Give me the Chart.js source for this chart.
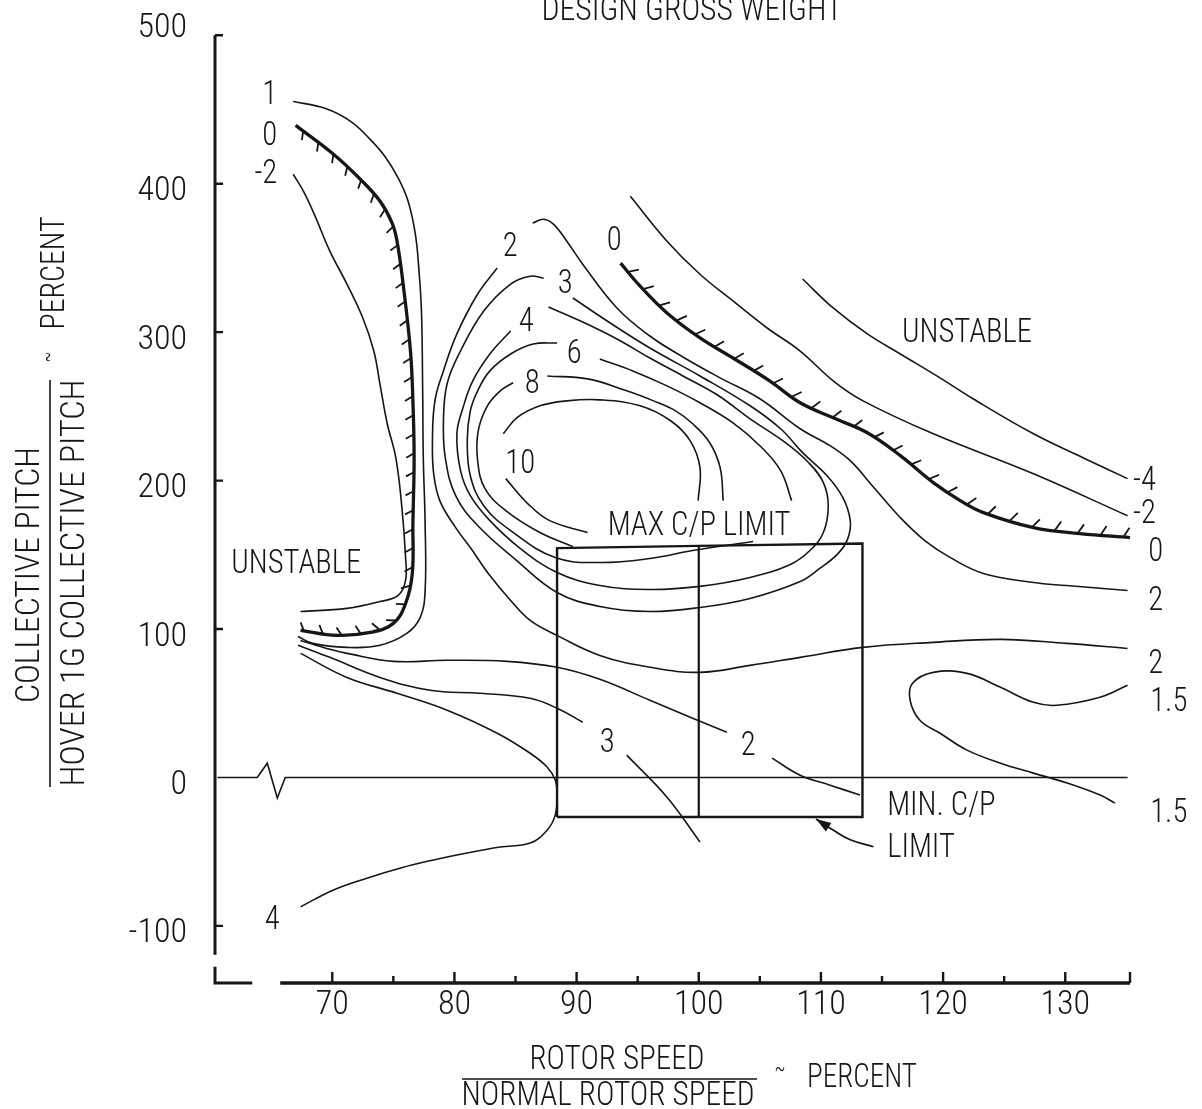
<!DOCTYPE html>
<html>
<head>
<meta charset="utf-8">
<title>Collective pitch vs rotor speed</title>
<script src="https://cdn.jsdelivr.net/npm/chart.js@4.4.1/dist/chart.umd.min.js"></script>
<style>
  html, body { margin: 0; padding: 0; background: #fff; }
  canvas { display: block; }
</style>
</head>
<body>
<canvas id="chart" width="1202" height="1109"></canvas>
<script>
// axes: rotor speed / normal rotor speed (%) and collective pitch / hover 1G collective pitch (%)
const X_MIN = 60.4, X_MAX = 135.3;
const Y_MIN = -138.5, Y_MAX = 500;
const xTicks = [70, 80, 90, 100, 110, 120, 130];
const xMinorTicks = [75, 85, 95, 105, 115, 125];
const yTicks = [500, 400, 300, 200, 100, 0, -100];

// contour lines
const one_x = [66.8, 69.4, 71.5, 73.1, 74.3, 75.4, 76.2, 76.8, 77.1, 77.3, 77.4, 77.45, 77.6, 77.6, 77.2, 76.1, 73.9, 71.2, 68.4, 67.2];
const one_y = [455.4, 450.8, 442.0, 429.9, 418.5, 403.7, 388.3, 366.0, 341.1, 314.2, 260.5, 215.4, 171.0, 125.9, 107.8, 97.0, 89.0, 87.6, 90.3, 95.0];

const zeroL_x = [67.0, 70.1, 72.3, 73.9, 74.9, 75.3, 75.8, 76.4, 76.6, 76.7, 76.6, 76.55, 76.0, 75.0, 73.1, 70.4, 67.4];
const zeroL_y = [439.3, 419.9, 403.0, 388.3, 373.5, 361.3, 332.4, 287.3, 253.7, 215.4, 171.0, 137.4, 117.2, 103.8, 97.7, 95.7, 99.1];

const minus2L_x = [66.8, 67.7, 68.6, 69.8, 71.2, 72.5, 73.4, 73.9, 74.5, 75.2, 75.7, 76.0, 76.0, 75.4, 73.9, 71.2, 67.4];
const minus2L_y = [406.4, 394.0, 378.0, 354.6, 332.4, 309.5, 287.3, 265.2, 238.3, 215.4, 181.8, 148.1, 132.7, 122.6, 118.5, 113.9, 111.8];

const two_x = [83.5, 81.9, 80.2, 79.1, 78.4, 78.2, 78.3, 78.8, 80.1, 81.3, 82.9, 84.6, 86.2, 88.4, 91.9, 96.0, 100.1, 104.2, 108.3, 113.45, 119.2, 124.7, 130.1, 135.1];
const two_y = [343.2, 325.7, 298.8, 273.9, 253.7, 226.8, 204.6, 186.5, 168.3, 154.9, 136.0, 119.2, 105.8, 95.7, 82.2, 74.2, 70.8, 75.5, 80.9, 87.6, 91.0, 93.0, 90.3, 86.9];
const twoR_x = [86.4, 87.3, 88.1, 89.2, 90.5, 93.3, 96.0, 98.7, 101.75, 105.0, 108.3, 110.75, 112.4, 114.4, 116.5, 118.5, 120.6, 123.3, 127.4, 130.1, 135.1];
const twoR_y = [373.5, 376.1, 372.8, 361.3, 345.8, 316.3, 297.4, 283.3, 269.2, 255.1, 234.9, 223.5, 213.4, 194.6, 175.0, 159.6, 148.1, 137.4, 131.3, 129.3, 125.9];

const three_x = [87.3, 86.2, 84.6, 82.4, 80.5, 79.4, 79.1, 79.25, 80.1, 81.9, 85.1, 88.4, 91.9, 96.0, 100.1, 104.2, 108.3, 109.9, 111.4, 112.2, 112.4, 111.8, 110.5, 108.5, 106.7, 104.2, 100.1, 96.0, 92.5, 89.7];
const three_y = [336.3, 337.7, 332.4, 314.2, 287.3, 265.2, 240.3, 215.4, 189.8, 169.7, 146.1, 124.6, 115.2, 111.8, 114.5, 120.6, 132.0, 140.8, 150.8, 160.9, 173.0, 188.5, 203.3, 218.8, 234.9, 250.4, 270.5, 289.3, 307.5, 323.0];

const four_x = [84.6, 82.9, 81.5, 80.7, 80.2, 80.5, 81.3, 82.9, 85.4, 88.4, 91.9, 96.0, 100.1, 104.2, 107.5, 109.1, 110.2, 110.6, 110.2, 109.0, 107.1, 104.2, 101.5, 98.7, 96.0, 93.3, 90.5, 87.7];
const four_y = [300.8, 285.3, 267.2, 249.0, 231.5, 206.7, 189.8, 173.0, 154.2, 138.1, 129.3, 126.6, 128.7, 134.7, 143.5, 152.9, 165.0, 183.1, 198.6, 212.0, 225.5, 241.6, 257.8, 270.5, 282.6, 295.4, 306.8, 316.9];

const sixL_x = [88.4, 86.45, 84.6, 82.9, 81.9, 81.3, 81.05, 81.3, 82.4, 84.6, 88.25, 91.9, 96.0, 99.5, 104.45];
const sixL_y = [292.7, 292.0, 285.3, 273.9, 260.5, 247.0, 226.8, 203.3, 183.1, 166.3, 148.1, 144.8, 147.5, 152.9, 158.9];
const sixR_x = [91.9, 94.6, 97.4, 100.1, 102.8, 105.0, 106.7, 107.6];
const sixR_y = [281.9, 273.9, 263.8, 252.4, 238.9, 223.5, 206.7, 186.5];

const eightL_x = [84.8, 83.75, 82.7, 81.95, 81.9, 82.5, 84.2, 87.0, 89.7];
const eightL_y = [265.9, 260.5, 250.4, 233.6, 213.4, 194.6, 179.8, 165.0, 155.5];
const eightR_x = [87.6, 90.9, 94.1, 96.3, 98.1, 99.5, 100.9, 101.75, 102.0];
const eightR_y = [270.5, 268.5, 260.5, 253.7, 247.0, 238.3, 225.5, 208.7, 186.5];

const tenU_x = [84.0, 85.1, 87.0, 89.2, 91.9, 95.2, 97.7, 99.3, 100.1, 99.95];
const tenU_y = [231.5, 242.3, 250.4, 253.7, 254.4, 250.4, 240.3, 226.8, 208.7, 186.5];
const tenL_x = [84.2, 86.0, 87.8, 90.9];
const tenL_y = [201.3, 184.5, 173.0, 165.0];

const zeroR_x = [93.6, 95.2, 97.4, 100.1, 102.8, 105.8, 108.3, 111.2, 113.8, 116.5, 119.2, 121.4, 123.3, 127.4, 131.2, 135.3];
const zeroR_y = [346.5, 331.0, 312.9, 296.1, 282.6, 267.2, 252.4, 241.6, 232.2, 216.8, 198.6, 186.5, 178.4, 168.3, 164.3, 161.6];

const minus2R_x = [94.4, 97.4, 100.1, 102.8, 105.6, 108.3, 111.0, 113.45, 119.2, 127.4, 135.1];
const minus2R_y = [391.6, 361.3, 339.0, 321.0, 302.8, 287.3, 267.2, 253.7, 231.5, 204.6, 176.3];

const minus4_x = [108.5, 111.0, 113.8, 116.5, 119.75, 122.45, 127.4, 131.45, 135.1];
const minus4_y = [335.8, 316.3, 298.8, 285.3, 269.2, 255.1, 231.5, 215.4, 201.3];

const onefive_x = [135.1, 132.85, 129.3, 127.4, 124.7, 121.96, 119.2, 117.5, 117.3, 118.1, 119.75, 121.96, 124.7, 127.4, 130.15, 132.85, 134.07];
const onefive_y = [62.1, 54.0, 48.6, 50.6, 60.7, 70.1, 70.8, 63.4, 52.0, 38.5, 29.8, 18.4, 9.6, 2.9, -3.8, -11.9, -17.3];

const twoLow_x = [67.4, 69.8, 71.2, 75.0, 79.4, 84.3, 88.4, 91.9, 96.0, 99.5, 102.3];
const twoLow_y = [92.3, 86.3, 83.6, 78.2, 78.9, 78.2, 74.2, 66.1, 52.0, 39.9, 30.5];
const twoLowTail_x = [106.0, 108.3, 110.75, 113.2];
const twoLowTail_y = [13.0, 1.5, -5.2, -11.9];

const threeLow_x = [67.2, 69.8, 73.9, 78.0, 82.1, 86.2, 88.4, 90.5];
const threeLow_y = [89.0, 80.9, 67.4, 58.7, 56.7, 53.3, 46.6, 37.2];
const threeLowTail_x = [94.1, 97.4, 100.1];
const threeLowTail_y = [15.0, -13.3, -43.5];

const fourLow_x = [67.4, 71.2, 75.3, 79.4, 83.5, 86.2, 87.6, 88.25, 88.4, 88.25, 87.6, 86.2, 83.75, 81.05, 78.3, 75.6, 72.9, 70.1, 67.4];
const fourLow_y = [83.6, 67.4, 56.7, 45.3, 29.8, 16.3, 6.9, -1.8, -11.9, -25.4, -35.4, -44.2, -46.9, -50.9, -55.6, -61.0, -67.7, -75.8, -87.2];

// zero line with the axis-break zigzag
const zeroLine_x = [60.6, 63.86, 64.68, 65.5, 66.15, 135.1];
const zeroLine_y = [0, 0, 9.6, -13.9, 0, 0];

// collective pitch limits box
const cpLimitX = [88.4, 100.0, 113.4];      // left, split, right
const cpMaxY = [154.5, 156.0, 157.6];       // MAX C/P LIMIT at those x
const cpMinY = -26.7;                       // MIN C/P LIMIT

const arrow_x = [114.3, 112.4, 111.0, 110.1, 109.6];
const arrow_y = [-46.7, -42.0, -35.4, -30.7, -28.0];

// text on the plot (data coordinates)
const curveLabels = [
  ['1', 65.5, 462.2, 'right'], ['0', 65.5, 434.6, 'right'], ['-2', 65.5, 408.4, 'right'],
  ['2', 84.57, 359.3], ['0', 93.08, 363.4], ['3', 89.07, 334.5], ['4', 85.88, 308.9],
  ['6', 89.80, 287.3], ['8', 86.37, 267.2], ['10', 85.38, 213.4],
  ['-4', 135.55, 202.0, 'left'], ['-2', 135.55, 179.8, 'left'], ['0', 136.8, 154.2, 'left'],
  ['2', 136.8, 121.3, 'left'], ['2', 136.8, 78.9, 'left'], ['1.5', 136.95, 53.3, 'left'], ['1.5', 136.95, -21.9, 'left'],
  ['3', 92.50, 25.1], ['2', 104.04, 23.1], ['4', 65.09, -93.9]
];
const noteLabels = [
  ['MAX C/P LIMIT', 100.03, 171.7], ['UNSTABLE', 121.96, 301.5], ['UNSTABLE', 67.05, 146.1],
  ['MIN. C/P', 115.42, -17.3, 'left'], ['LIMIT', 115.42, -45.5, 'left']
];

const INK = '#161616';
const FONT = "'Roboto Condensed', 'DejaVu Sans Condensed', 'Liberation Sans', sans-serif";
const WEIGHT = 300;
const SIZE = 34;

function pts(xs, ys) { return xs.map((v, i) => ({ x: v, y: ys[i] })); }
function curve(xs, ys, extra) {
  return Object.assign({
    data: pts(xs, ys), showLine: true, borderColor: INK, borderWidth: 1.6,
    pointRadius: 0, tension: 0.4, fill: false, clip: false
  }, extra || {});
}

const boxX = [cpLimitX[0], cpLimitX[0], cpLimitX[1], cpLimitX[2], cpLimitX[2], cpLimitX[0]];
const boxY = [cpMinY, cpMaxY[0], cpMaxY[1], cpMaxY[2], cpMinY, cpMinY];

const datasets = [
  curve(one_x, one_y),
  curve(zeroL_x, zeroL_y, { borderWidth: 3.3, hatch: { side: -1, step: 19, len: 9 } }),
  curve(minus2L_x, minus2L_y),
  curve(two_x, two_y),
  curve(twoR_x, twoR_y),
  curve(three_x, three_y),
  curve(four_x, four_y),
  curve(sixL_x, sixL_y), curve(sixR_x, sixR_y),
  curve(eightL_x, eightL_y), curve(eightR_x, eightR_y),
  curve(tenU_x, tenU_y), curve(tenL_x, tenL_y),
  curve(zeroR_x, zeroR_y, { borderWidth: 3.3, hatch: { side: 1, step: 23, len: 11 } }),
  curve(minus2R_x, minus2R_y),
  curve(minus4_x, minus4_y),
  curve(onefive_x, onefive_y),
  curve(twoLow_x, twoLow_y), curve(twoLowTail_x, twoLowTail_y),
  curve(threeLow_x, threeLow_y), curve(threeLowTail_x, threeLowTail_y),
  curve(fourLow_x, fourLow_y),
  curve(zeroLine_x, zeroLine_y, { tension: 0, borderWidth: 1.6 }),
  curve(boxX, boxY, { tension: 0, borderWidth: 2.4 }),
  curve([cpLimitX[1], cpLimitX[1]], [cpMinY, cpMaxY[1]], { tension: 0, borderWidth: 2.2 }),
  curve(arrow_x, arrow_y, { borderWidth: 1.8, arrow: true })
];

let K = 0.8;
function text(ctx, s, px, py, o) {
  o = o || {};
  const size = o.size || SIZE;
  ctx.save();
  ctx.font = WEIGHT + ' ' + size + 'px ' + FONT;
  const w = ctx.measureText(s).width;
  const k = o.w ? o.w / w : K;
  ctx.translate(px, py);
  if (o.rot) ctx.rotate(o.rot);
  ctx.scale(k, 1);
  ctx.fillStyle = INK;
  ctx.textAlign = o.align || 'center';
  ctx.textBaseline = 'alphabetic';
  ctx.fillText(s, 0, o.baseline ? 0 : size * 0.36);
  ctx.restore();
}

function hatchLine(ctx, p, side, step, len) {
  const lean = 0.5;
  let acc = step / 2;
  for (let i = 1; i < p.length; i++) {
    const ax = p[i - 1].x, ay = p[i - 1].y, bx = p[i].x, by = p[i].y;
    const seg = Math.hypot(bx - ax, by - ay);
    if (!seg) continue;
    const tx = (bx - ax) / seg, ty = (by - ay) / seg;
    const nx = side * ty, ny = -side * tx;
    const dx = nx * Math.cos(lean) + tx * Math.sin(lean);
    const dy = ny * Math.cos(lean) + ty * Math.sin(lean);
    let d = acc;
    while (d < seg) {
      const qx = ax + tx * d, qy = ay + ty * d;
      ctx.moveTo(qx, qy);
      ctx.lineTo(qx + dx * len, qy + dy * len);
      d += step;
    }
    acc = d - seg;
  }
}

const sketch = {
  id: 'sketch',
  afterDatasetsDraw(chart) {
    const ctx = chart.ctx;
    ctx.save();
    ctx.strokeStyle = INK;
    ctx.fillStyle = INK;
    chart.data.datasets.forEach((ds, i) => {
      const p = chart.getDatasetMeta(i).data.map(e => ({ x: e.x, y: e.y }));
      if (ds.hatch) {
        ctx.beginPath();
        ctx.lineWidth = 1.8;
        hatchLine(ctx, p, ds.hatch.side, ds.hatch.step, ds.hatch.len);
        ctx.stroke();
      }
      if (ds.arrow) {
        const t = p[p.length - 1], b = p[p.length - 2];
        const L = Math.hypot(t.x - b.x, t.y - b.y);
        const ux = (t.x - b.x) / L, uy = (t.y - b.y) / L;
        const bx = t.x - ux * 15, by = t.y - uy * 15;
        ctx.beginPath();
        ctx.moveTo(t.x, t.y);
        ctx.lineTo(bx - uy * 5, by + ux * 5);
        ctx.lineTo(bx + uy * 5, by - ux * 5);
        ctx.closePath();
        ctx.fill();
      }
    });
    ctx.restore();
  },
  afterDraw(chart) {
    const ctx = chart.ctx;
    const { x, y } = chart.scales;
    const ax = x.getPixelForValue(X_MIN), bottom = y.getPixelForValue(Y_MIN);
    ctx.save();
    ctx.strokeStyle = INK;
    ctx.lineCap = 'butt';
    // y axis, broken just above the corner
    ctx.lineWidth = 3;
    ctx.beginPath();
    ctx.moveTo(ax, y.getPixelForValue(Y_MAX));
    ctx.lineTo(ax, y.getPixelForValue(-119.5));
    ctx.moveTo(ax, y.getPixelForValue(-127.6));
    ctx.lineTo(ax, bottom);
    ctx.lineTo(x.getPixelForValue(63.45), bottom);
    ctx.stroke();
    ctx.lineWidth = 3.5;
    ctx.beginPath();
    ctx.moveTo(x.getPixelForValue(65.74), bottom);
    ctx.lineTo(x.getPixelForValue(X_MAX), bottom);
    ctx.stroke();
    // ticks pointing inward
    ctx.lineWidth = 2.4;
    ctx.beginPath();
    yTicks.forEach(v => {
      if (v === 0) return;
      const py = y.getPixelForValue(v);
      ctx.moveTo(ax, py); ctx.lineTo(ax + 8, py);
    });
    xTicks.concat([X_MAX]).forEach(v => {
      const px = x.getPixelForValue(v);
      ctx.moveTo(px, bottom); ctx.lineTo(px, bottom - 11);
    });
    xMinorTicks.forEach(v => {
      const px = x.getPixelForValue(v);
      ctx.moveTo(px, bottom); ctx.lineTo(px, bottom - 7);
    });
    ctx.stroke();

    ctx.font = WEIGHT + ' ' + SIZE + 'px ' + FONT;
    K = 130 / ctx.measureText('UNSTABLE').width;

    curveLabels.concat(noteLabels).forEach(l => {
      text(ctx, l[0], x.getPixelForValue(l[1]), y.getPixelForValue(l[2]), { align: l[3] });
    });

    // titles
    text(ctx, 'DESIGN GROSS WEIGHT', 692, 20, { w: 301, baseline: true });
    // x axis title as a fraction
    text(ctx, 'ROTOR SPEED', 617, 1057, { w: 175 });
    text(ctx, 'NORMAL ROTOR SPEED', 608, 1093, { w: 293 });
    text(ctx, '~', 780, 1068, { size: 26, w: 11 });
    text(ctx, 'PERCENT', 862, 1075, { w: 110 });
    ctx.lineWidth = 1.6;
    ctx.beginPath();
    ctx.moveTo(462, 1079); ctx.lineTo(757, 1079);
    // y axis title as a fraction
    ctx.moveTo(50, 380); ctx.lineTo(50, 787);
    ctx.stroke();
    const up = -Math.PI / 2;
    text(ctx, 'COLLECTIVE PITCH', 27, 575, { w: 256, rot: up });
    text(ctx, 'HOVER 1G COLLECTIVE PITCH', 72, 583, { w: 407, rot: up });
    text(ctx, 'PERCENT', 52, 273, { w: 113, rot: up });
    text(ctx, '~', 47, 357, { size: 26, w: 11, rot: up });
    ctx.restore();
  }
};

new Chart(document.getElementById('chart'), {
  type: 'scatter',
  data: { datasets },
  options: {
    responsive: false,
    animation: false,
    events: [],
    layout: { padding: { top: 34, right: 72, bottom: 0, left: 0 } },
    plugins: { legend: { display: false }, tooltip: { enabled: false } },
    scales: {
      x: {
        type: 'linear', min: X_MIN, max: X_MAX,
        grid: { display: false }, border: { display: false },
        afterBuildTicks: s => { s.ticks = xTicks.map(v => ({ value: v })); },
        afterFit: s => { s.height = 126; },
        ticks: { padding: -6, color: INK, font: { family: FONT, size: SIZE, weight: WEIGHT }, maxRotation: 0, autoSkip: false, callback: v => String(v) }
      },
      y: {
        type: 'linear', min: Y_MIN, max: Y_MAX,
        grid: { display: false }, border: { display: false },
        afterBuildTicks: s => { s.ticks = yTicks.map(v => ({ value: v })); },
        afterFit: s => { s.width = 215; },
        ticks: {
          padding: 20, labelOffset: 8, color: INK, autoSkip: false,
          font: { family: FONT, size: SIZE, weight: WEIGHT, lineHeight: 0.9 },
          // the top label sits above its tick in the original
          callback: v => (v === Y_MAX ? [String(v), ''] : String(v))
        }
      }
    }
  },
  plugins: [sketch]
});
</script>
</body>
</html>
